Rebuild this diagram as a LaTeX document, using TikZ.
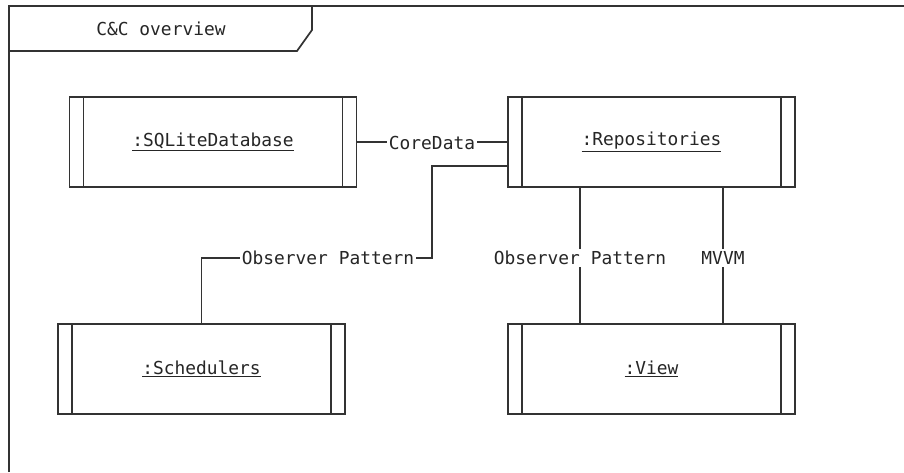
\documentclass[tikz,border=0pt]{standalone}
\usepackage{fontspec}
\setmonofont{DejaVu Sans Mono}
\newcommand{\complabel}[1]{\raisebox{-2.5pt}{\underline{#1}}}
\begin{document}
\begin{tikzpicture}[x=0.75pt,y=-0.75pt,
  line width=1.3pt,
  every node/.style={font=\ttfamily\fontsize{13.4pt}{16pt}\selectfont, text=black!85},
  comp/.style={draw=black!80, fill=white, minimum width=215.25pt, minimum height=67.5pt, inner sep=0pt,
    path picture={
      \draw[line width=1.3pt, black!80]
        ([xshift=10.5pt]path picture bounding box.north west) -- ([xshift=10.5pt]path picture bounding box.south west)
        ([xshift=-10.5pt]path picture bounding box.north east) -- ([xshift=-10.5pt]path picture bounding box.south east);
    }},
  wire/.style={draw=black!80},
  lbl/.style={fill=white, inner sep=1.5pt}]
\useasboundingbox (0,0) rectangle (904,472);
\fill[white] (0,0) rectangle (904,472);
% frame and its title tab
\draw[black!80] (9,472) -- (9,6) -- (904,6);
\draw[black!80] (312,6) -- (312,30) -- (297,51) -- (9,51);
\node (title) at (161,29) {C\&C overview};
% components
\node[comp] (sql) at (213,142) {\complabel{:SQLiteDatabase}};
\node[comp] (repo) at (651.5,142) {\complabel{:Repositories}};
\node[comp] (sched) at (201.5,369) {\complabel{:Schedulers}};
\node[comp] (view) at (651.5,369) {\complabel{:View}};
% connectors
\draw[wire] (sql.east) -- (repo.west);
\node[lbl] (cd) at (432,143) {CoreData};
\coordinate (bend) at (432,258);
\draw[wire] ([yshift=-18pt]repo.west) -| (bend) -| (sched.north);
\node[lbl] (obs1) at (328,258) {Observer Pattern};
\draw[wire] ([xshift=-53.6pt]repo.south) -- ([xshift=-53.6pt]view.north);
\node[lbl] (obs2) at (580,258) {Observer Pattern};
\draw[wire] ([xshift=53.6pt]repo.south) -- ([xshift=53.6pt]view.north);
\node[lbl] (mvvm) at (723,258) {MVVM};
\end{tikzpicture}
\end{document}
